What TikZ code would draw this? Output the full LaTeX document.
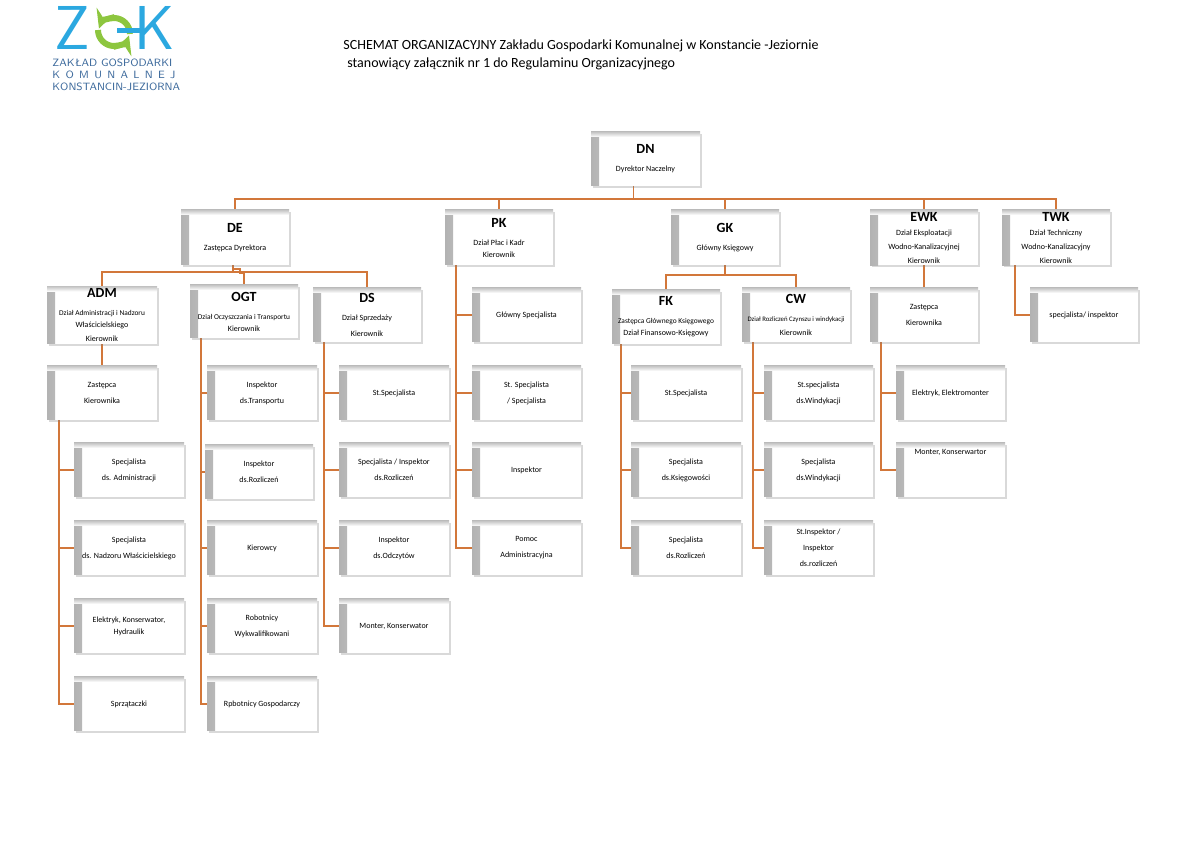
\documentclass[tikz,border=0pt]{standalone}
\usepackage{fontspec}
\setmainfont{Carlito}
\usetikzlibrary{shadows,calc,backgrounds}
\definecolor{ln}{HTML}{D2773A}
\definecolor{zb}{HTML}{2BA8E0}
\definecolor{zg}{HTML}{8DC63F}
\definecolor{zt}{HTML}{3D6A9C}
\tikzset{
 bx/.style={fill=white,inner sep=1pt,align=center,font=\fontsize{4}{6}\selectfont,
  drop shadow={shadow xshift=1pt,shadow yshift=-1pt,opacity=.3},
  path picture={\shade[left color=gray!60,right color=white] (path picture bounding box.north west) rectangle ([xshift=4pt]path picture bounding box.south west);
   \shade[top color=gray!45,bottom color=white] (path picture bounding box.north west) rectangle ([yshift=-2.5pt]path picture bounding box.north east);}},
 con/.style={draw=ln,line width=0.9pt}
}
\newcommand\bx[6]{\node[bx,minimum width={(#3-#2)*0.5pt},minimum height={(#5-#4)*0.5pt}] (#1) at ({(#2+#3)/2},{(#4+#5)/2}) {#6};}
\newcommand\T[1]{{\fontsize{7}{8}\selectfont\bfseries #1}\\[3pt]}
\newcommand\sm[1]{\fontsize{#1}{4.8}\selectfont}
\begin{document}
\begin{tikzpicture}[x=0.5pt,y=-0.5pt]
\useasboundingbox (0,0) rectangle (1200,849);
% logo
\node[font=\fontsize{31}{31}\selectfont\sffamily,text=zb,inner sep=0,anchor=south] (lz) at (72,50) {Z};
\node[font=\fontsize{31}{31}\selectfont\sffamily,text=zb,inner sep=0,anchor=south] (lk) at (155,50) {K};
\draw[zg,line width=3pt,-stealth] (98,30) arc[start angle=180,end angle=20,radius=16];
\draw[zg,line width=3pt,-stealth] (130,34) arc[start angle=0,end angle=-160,radius=16];
\draw[zb,line width=2.5pt] (117,31) -- (140,31);
\node[anchor=north west,font=\fontsize{5.3}{5.8}\selectfont\sffamily,text=zt,align=left,inner sep=0] (lt) at (52,59) {ZAKŁAD GOSPODARKI\\K\,\,\,O\,\,\,M\,\,\,U\,\,\,N\,\,\,A\,\,\,L\,\,\,N\,\,\,E\,\,\,J\\KONSTANCIN-JEZIORNA};
\node[anchor=west,font=\fontsize{7}{8}\selectfont,inner sep=0] (t1) at (343,46) {SCHEMAT ORGANIZACYJNY Zakładu Gospodarki Komunalnej w Konstancie -Jeziornie};
\node[anchor=west,font=\fontsize{7}{8}\selectfont,inner sep=0] (t2) at (347,64) {stanowiący załącznik nr 1 do Regulaminu Organizacyjnego};
% boxes
\bx{DN}{591}{700}{132}{186}{\T{DN}Dyrektor Naczelny}
\bx{DE}{181}{289}{210}{265}{\T{DE}Zastępca Dyrektora}
\bx{PK}{445}{553}{210}{265}{\T{PK}Dział Płac i Kadr\\Kierownik}
\bx{GK}{671}{779}{210}{265}{\T{GK}Główny Księgowy}
\bx{EWK}{870}{978}{210}{265}{{\fontsize{7}{8}\selectfont\bfseries EWK}\\[1pt]Dział Eksploatacji\\[1pt]Wodno-Kanalizacyjnej\\[1pt]Kierownik}
\bx{TWK}{1002}{1110}{210}{265}{{\fontsize{7}{8}\selectfont\bfseries TWK}\\[1pt]Dział Techniczny\\[1pt]Wodno-Kanalizacyjny\\[1pt]Kierownik}
\bx{ADM}{47}{157}{288}{342}{\T{ADM}\sm{3.7}Dział Administracji i Nadzoru\\Właścicielskiego\\[1pt]Kierownik}
\bx{OGT}{190}{298}{285}{338}{\T{OGT}\sm{3.7}Dział Oczyszczania i Transportu\\Kierownik}
\bx{DS}{313}{421}{288}{342}{\T{DS}Dział Sprzedaży\\[2pt]Kierownik}
\bx{FK}{612}{720}{290}{344}{\T{FK}\sm{3.7}Zastępca Głównego Księgowego\\Dział Finansowo-Księgowy}
\bx{CW}{742}{850}{288}{342}{\T{CW}\sm{3.4}Dział Rozliczeń Czynszu i windykacji\\[1pt]Kierownik}
\bx{EZ}{870}{978}{288}{342}{Zastępca\\[2pt]Kierownika}
\bx{TS}{1030}{1138}{288}{342}{specjalista/ inspektor}
\bx{AZ}{47}{157}{366}{420}{Zastępca\\[2pt]Kierownika}
\bx{A1}{74}{184}{443}{497}{Specjalista\\[2pt]ds. Administracji}
\bx{A2}{74}{184}{521}{575}{Specjalista\\[2pt]ds. Nadzoru Właścicielskiego}
\bx{A3}{74}{184}{599}{653}{Elektryk, Konserwator,\\Hydraulik}
\bx{A4}{74}{184}{677}{731}{Sprzątaczki}
\bx{O1}{207}{317}{366}{420}{Inspektor\\[2pt]ds.Transportu}
\bx{O2}{205}{313}{445}{499}{Inspektor\\[2pt]ds.Rozliczeń}
\bx{O3}{207}{317}{521}{575}{Kierowcy}
\bx{O4}{207}{317}{599}{653}{Robotnicy\\[2pt]Wykwalifikowani}
\bx{O5}{207}{317}{677}{731}{Rpbotnicy Gospodarczy}
\bx{D1}{339}{449}{366}{420}{St.Specjalista}
\bx{D2}{339}{449}{443}{497}{Specjalista / Inspektor\\[2pt]ds.Rozliczeń}
\bx{D3}{339}{449}{521}{575}{Inspektor\\[2pt]ds.Odczytów}
\bx{D4}{339}{449}{599}{653}{Monter, Konserwator}
\bx{P1}{472}{581}{288}{342}{Główny Specjalista}
\bx{P2}{472}{581}{366}{420}{St. Specjalista\\[2pt]/ Specjalista}
\bx{P3}{472}{581}{443}{497}{Inspektor}
\bx{P4}{472}{581}{521}{575}{Pomoc\\[2pt]Administracyjna}
\bx{F1}{631}{741}{366}{420}{St.Specjalista}
\bx{F2}{631}{741}{443}{497}{Specjalista\\[2pt]ds.Księgowości}
\bx{F3}{631}{741}{521}{575}{Specjalista\\[2pt]ds.Rozliczeń}
\bx{C1}{764}{873}{366}{420}{St.specjalista\\[2pt]ds.Windykacji}
\bx{C2}{764}{873}{443}{497}{Specjalista\\[2pt]ds.Windykacji}
\bx{C3}{764}{873}{521}{575}{St.Inspektor /\\[2pt]Inspektor\\[2pt]ds.rozliczeń}
\bx{E1}{896}{1005}{366}{420}{Elektryk, Elektromonter}
\bx{E2}{896}{1005}{443}{497}{Monter, Konserwartor\\[12pt]\mbox{}}
% connectors
\begin{scope}[on background layer]
\draw[con] ([xshift=-6pt]DN.south) -- ++(0,13) coordinate (bus);
\draw[con] (DE.north) |- (bus) -| (TWK.north);
\draw[con] (PK.north) -- (PK.north |- bus);
\draw[con] (GK.north) -- (GK.north |- bus);
\draw[con] (EWK.north) -- (EWK.north |- bus);
\draw[con] ([xshift=-1pt]DE.south) -- ++(0,7) coordinate (deb);
\draw[con] (ADM.north) |- (deb) -| (DS.north);
\draw[con] ([xshift=-1pt]DE.south) ++(0,4) -| ++(3.5pt,3.5) -| (OGT.north);
\draw[con] (GK.south) -- ++(0,10) coordinate (gkb);
\draw[con] (FK.north) |- (gkb) -| (CW.north);
\draw[con] (ADM.south) -- (AZ.north);
\draw[con] (EWK.south) -- (EZ.north);
\draw[con] ([xshift=6.5pt]TWK.south west) |- (TS.west);
\draw[con] ([xshift=6pt]AZ.south west) |- (A4.west);
\foreach \n in {A1,A2,A3} \draw[con] ([xshift=6pt]AZ.south west |- \n.west) -- (\n.west);
\draw[con] ([xshift=5.5pt]OGT.south west) |- (O5.west);
\foreach \n in {O1,O2,O3,O4} \draw[con] ([xshift=5.5pt]OGT.south west |- \n.west) -- (\n.west);
\draw[con] ([xshift=5.5pt]DS.south west) |- (D4.west);
\foreach \n in {D1,D2,D3} \draw[con] ([xshift=5.5pt]DS.south west |- \n.west) -- (\n.west);
\draw[con] ([xshift=5.5pt]PK.south west) |- (P4.west);
\foreach \n in {P1,P2,P3} \draw[con] ([xshift=5.5pt]PK.south west |- \n.west) -- (\n.west);
\draw[con] ([xshift=4.5pt]FK.south west) |- (F3.west);
\foreach \n in {F1,F2} \draw[con] ([xshift=4.5pt]FK.south west |- \n.west) -- (\n.west);
\draw[con] ([xshift=5.5pt]CW.south west) |- (C3.west);
\foreach \n in {C1,C2} \draw[con] ([xshift=5.5pt]CW.south west |- \n.west) -- (\n.west);
\draw[con] ([xshift=5.5pt]EZ.south west) |- (E2.west);
\draw[con] ([xshift=5.5pt]EZ.south west |- E1.west) -- (E1.west);
\end{scope}
\end{tikzpicture}
\end{document}
